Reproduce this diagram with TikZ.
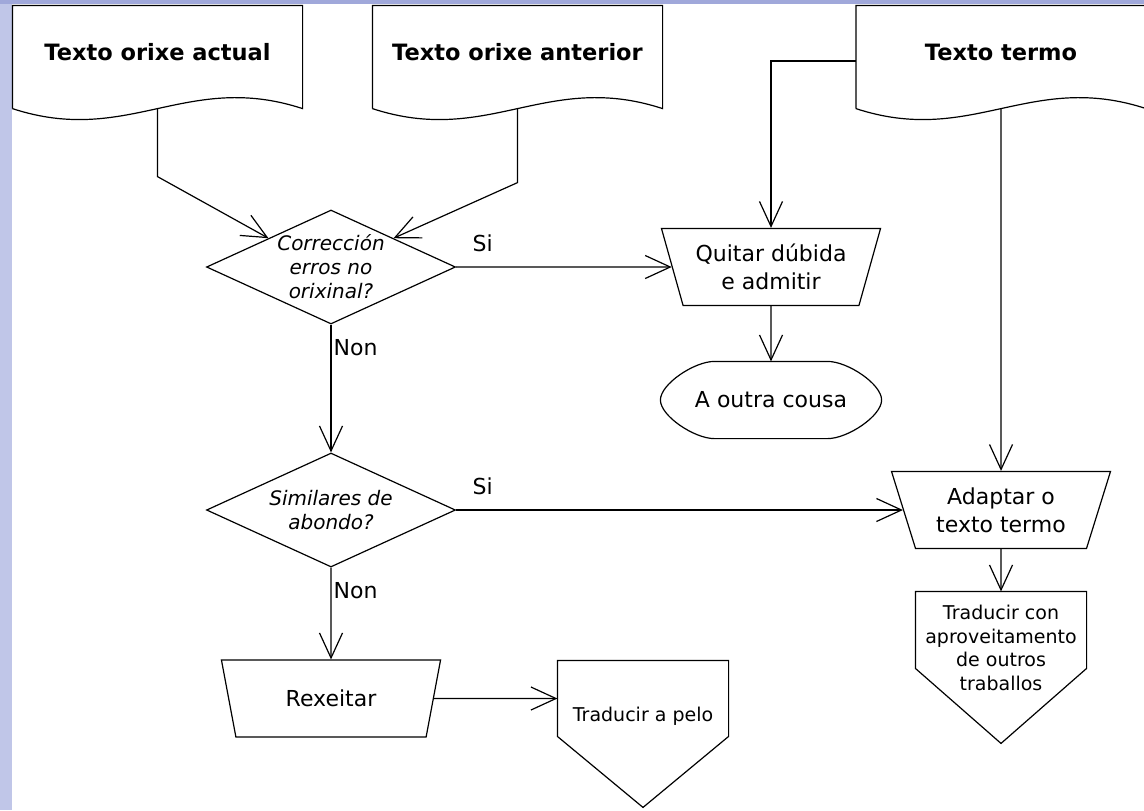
\documentclass[tikz,border=0pt]{standalone}
\usepackage{fontspec}
\setmainfont{DejaVu Sans}
\usetikzlibrary{shapes.geometric,arrows.meta,calc}
\definecolor{sidebar}{RGB}{192,198,232}
\definecolor{topbar}{RGB}{160,168,218}
% document with wavy lower edge
\newcommand{\docshape}[1]{\draw (#1.south west) -- (#1.north west) -- (#1.north east) -- (#1.south east) .. controls +(-116,-38) and +(116,38) .. (#1.south west);}
% off-page connector: node, side length, total length
\newcommand{\offpage}[3]{\draw (#1.north west) -- (#1.north east) -- ++(0,#2) -- ($(#1.north)+(0,#3)$) -- ($(#1.north west)+(0,#2)$) -- cycle;}
% terminator with long pointed ends
\newcommand{\termshape}[1]{\draw ($(#1.north west)+(54,0)$) -- ($(#1.north east)+(-54,0)$) .. controls +(20,0) and +(0,-16) .. (#1.east) .. controls +(0,16) and +(20,0) .. ($(#1.south east)+(-54,0)$) -- ($(#1.south west)+(54,0)$) .. controls +(-20,0) and +(0,16) .. (#1.west) .. controls +(0,-16) and +(-20,0) .. ($(#1.north west)+(54,0)$);}

\begin{document}
\begin{tikzpicture}[x=0.5pt,y=-0.5pt,line width=0.6pt,
    >={Straight Barb[length=12.5pt,width=11.5pt]},
    doc/.style={minimum width=144.5pt,minimum height=51pt,inner sep=0pt,text depth=5pt,
      font=\bfseries\fontsize{11.25}{13.5}\selectfont},
    decision/.style={diamond,draw,aspect=2.2,minimum width=124.5pt,minimum height=57pt,inner sep=0pt,
      align=center,font=\itshape\fontsize{10}{12}\selectfont},
    proc/.style={trapezium,draw,trapezium left angle=68,trapezium right angle=68,shape border rotate=180,
      trapezium stretches=true,minimum width=110pt,minimum height=38.5pt,inner sep=0pt,
      align=center,font=\fontsize{11}{14}\selectfont},
    term/.style={minimum width=110pt,minimum height=38pt,inner sep=0pt,font=\fontsize{11}{14}\selectfont},
    offp/.style={minimum width=85pt,inner sep=0pt,align=center,font=\fontsize{9.5}{11.75}\selectfont},
    lbl/.style={inner sep=1pt,font=\fontsize{11}{14}\selectfont}]
    \useasboundingbox (0,0) rectangle (1144,810);
    \fill[white] (0,0) rectangle (1144,810);
    \fill[sidebar] (0,0) rectangle (12,810);
    \fill[topbar] (0,0) rectangle (1144,4);

    \node[doc] (actual) at (157.5,57) {Texto orixe actual};
    \node[doc] (anterior) at (517.5,57) {Texto orixe anterior};
    \node[doc] (termo) at (1001,57) {Texto termo};
    \docshape{actual}
    \docshape{anterior}
    \docshape{termo}

    \node[decision] (correccion) at (331,267) {Corrección\\erros no\\orixinal?};
    \node[decision] (similares) at (331,510) {Similares de\\abondo?};
    \node[proc] (quitar) at (771,267) {Quitar dúbida\\e admitir};
    \node[term] (outra) at (771,400) {A outra cousa};
    \termshape{outra}
    \node[proc] (adaptar) at (1001,510) {Adaptar o\\texto termo};
    \node[proc] (rexeitar) at (331,698.5) {Rexeitar};
    \node[offp,minimum height=56pt] (aprov) at (1001,648) {Traducir con\\aproveitamento\\de outros\\traballos};
    \offpage{aprov}{77}{152}
    \node[offp,minimum height=55pt] (pelo) at (643,716) {Traducir a pelo};
    \offpage{pelo}{76}{147}

    \draw[->] (actual.south) -- ++(0,68) -- (correccion.north west);
    \draw[->] (anterior.south) -- ++(0,74) -- (correccion.north east);
    \draw[->] (correccion) -- node[lbl,pos=0,anchor=south west,xshift=7pt,yshift=6.5pt] {Si} (quitar);
    \draw[->] ([yshift=-2pt]termo.west) -| (quitar);
    \draw[->] (quitar) -- (outra);
    \draw[->] (correccion) -- node[lbl,pos=0,anchor=north west,yshift=-6pt] {Non} (similares);
    \draw[->] (similares) -- node[lbl,pos=0,anchor=south west,xshift=7pt,yshift=6.5pt] {Si} (adaptar);
    \draw[->] (termo.south) -- (adaptar);
    \draw[->] (adaptar) -- (aprov);
    \draw[->] (similares) -- node[lbl,pos=0,anchor=north west,yshift=-6pt] {Non} (rexeitar);
    \draw[->] (rexeitar) -- (rexeitar -| pelo.west);
\end{tikzpicture}
\end{document}
